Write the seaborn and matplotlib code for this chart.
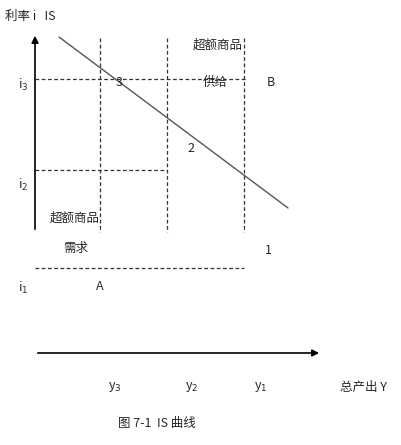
import matplotlib
matplotlib.use("Agg")
import matplotlib.pyplot as plt
import seaborn as sns

sns.set_style("white")
plt.rcParams['font.family'] = ['Noto Sans CJK SC', 'DejaVu Sans']

# diagram geometry in picture pixels (x right, y down)
axis_origin = (35, 353)
x_axis_end = 322
y_axis_top = 33
y_axis_bottom = 232
y_levels = {'y$_3$': 108, 'y$_2$': 185, 'y$_1$': 254}
i_levels = {'i$_3$': 79, 'i$_2$': 170, 'i$_1$': 268}
i_label_y = [85, 185, 288]
hline_ends = [247, 167, 244]
vline_x = [100, 167, 244]
vline_top = 38
vline_bottom = 232
is_x = [59, 288]
is_y = [37, 208]

fig = plt.figure(figsize=(4.02, 4.45), dpi=100)
ax = fig.add_axes([0, 0, 1, 1])
ax.set_xlim(0, 402)
ax.set_ylim(445, 0)
ax.axis('off')

ox, oy = axis_origin
ax.annotate('', xy=(ox, y_axis_top), xytext=(ox, y_axis_bottom),
            arrowprops=dict(arrowstyle='-|>', color='black', lw=1.2))
ax.annotate('', xy=(x_axis_end, oy), xytext=(ox, oy),
            arrowprops=dict(arrowstyle='-|>', color='black', lw=1.2))

for yv, xe in zip(i_levels.values(), hline_ends):
    ax.plot([ox, xe], [yv, yv], color='#333333', lw=0.9, ls=(0, (3, 2)))
for xv in vline_x:
    ax.plot([xv, xv], [vline_top, vline_bottom], color='#333333', lw=0.9, ls=(0, (3, 2)))

sns.lineplot(x=is_x, y=is_y, ax=ax, color='#555555', lw=1)

fs = 9
for lab, yv in zip(i_levels, i_label_y):
    ax.text(18, yv, lab, fontsize=fs, va='center')
for lab, xv in y_levels.items():
    ax.text(xv, 387, lab, fontsize=fs, va='center')

ax.text(5, 16, '利率 i   IS', fontsize=fs, va='center')
ax.text(116, 83, '3', fontsize=fs, va='center')
ax.text(193, 45, '超额商品', fontsize=fs, va='center')
ax.text(203, 82, '供给', fontsize=fs, va='center')
ax.text(267, 83, 'B', fontsize=fs, va='center')
ax.text(187, 148, '2', fontsize=fs, va='center')
ax.text(50, 218, '超额商品', fontsize=fs, va='center')
ax.text(63, 248, '需求', fontsize=fs, va='center')
ax.text(265, 250, '1', fontsize=fs, va='center')
ax.text(96, 286, 'A', fontsize=fs, va='center')
ax.text(340, 387, '总产出 Y', fontsize=fs, va='center')
ax.text(118, 423, '图 7-1  IS 曲线', fontsize=fs, va='center')

fig.savefig('out.png', dpi=100)
